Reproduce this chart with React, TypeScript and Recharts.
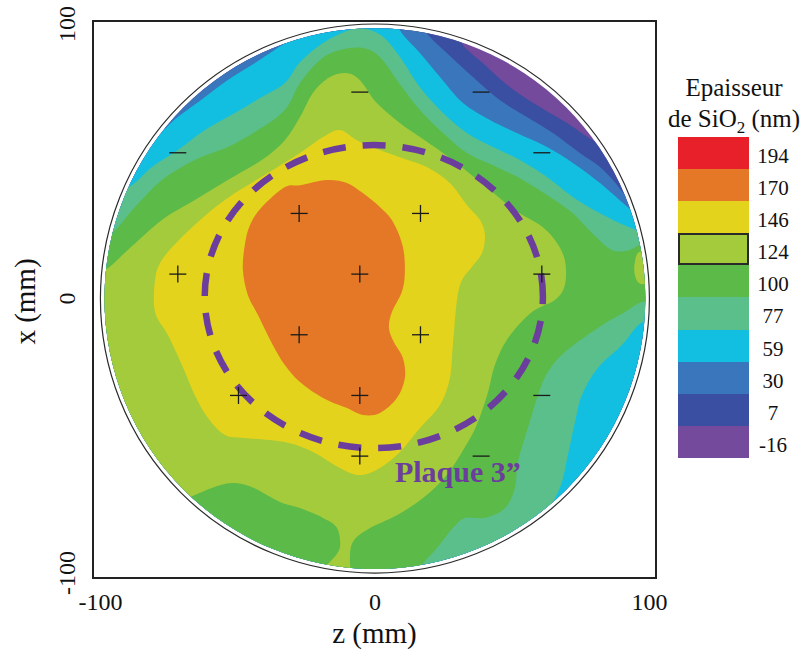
import React from 'react';
import { ScatterChart, Scatter, XAxis, YAxis, ReferenceArea } from 'recharts';

type Pt = { z: number; x: number };
const P = (arr: number[][]): Pt[] => arr.map(([z, x]) => ({ z, x }));

// Legend levels (nm) and colours
const levelLabels = ['194', '170', '146', '124', '100', '77', '59', '30', '7', '-16'];
const levelColors = ['#e8202a', '#e47826', '#e3d31c', '#a4cb3b', '#5bba48', '#5bbf8c', '#12bfe0', '#3976bb', '#3a4ea2', '#744a9c'];
const [cRed, cOrange, cYellow, cYG, cGreen, cTeal, cCyan, cBlue, cDark, cPurple] = levelColors;

// Axis ticks (mm)
const xTicks = [-100, 0, 100];
const yTicks = [-100, 0, 100];
const xDomain = [-102.7, 102.4];
const yDomain = [-101.8, 101.1];

// Wafer outline and mapped area (mm)
const waferEdge = P([[-100, 0], [100, 0], [0, 100], [0, -100]]);
const mapEdge = P([[-98.5, 0], [98.5, 0], [0, 98.5], [0, -98.5]]);

// Contour regions (z, x in mm), superlevel sets drawn from lowest to highest
const darkRegion = P([[-130, 130], [27, 130], [29.1, 98.5], [32.1, 92.3], [39.3, 85.8], [49.2, 77.0], [60.1, 69.8], [69.9, 64.0], [79.4, 57.7], [87.4, 54.8], [130, 50], [130, -130], [-130, -130]]);
const blueRegion = P([[-130, 130], [15, 130], [16.4, 103.3], [18.9, 96.7], [26.2, 89.4], [35.7, 80.7], [45.5, 72.3], [55.4, 66.1], [64.8, 60.3], [74.7, 53.0], [82.0, 47.9], [87.4, 42.4], [92.2, 37.0], [99.5, 34.1], [130, 30], [130, -130], [-130, -130]]);
const cyanRegion = P([[-130, 60], [-85.6, 63.2], [-79.1, 60.3], [-71.8, 66.1], [-61.9, 73.4], [-53.6, 79.6], [-43.7, 85.8], [-33.9, 92.3], [-27.3, 96.0], [-26.2, 102.3], [8.4, 104.4], [9.1, 97.8], [16.4, 89.4], [23.7, 80.7], [32.1, 71.2], [41.9, 65.0], [51.7, 60.3], [62.7, 55.2], [72.1, 49.4], [82.0, 42.1], [93.6, 32.2], [102.0, 27.9], [130, 25], [130, -130], [-130, -130]]);
const tealRegion = P([[-130, 45], [-97.3, 43.8], [-90.0, 40.6], [-81.2, 47.9], [-71.8, 54.1], [-61.9, 61.4], [-51.0, 67.6], [-41.2, 73.4], [-32.8, 78.5], [-27.3, 86.1], [-18.9, 93.1], [-10.2, 97.5], [-4.4, 98.5], [2.6, 95.6], [9.1, 88.0], [16.4, 77.0], [24.8, 67.6], [33.5, 60.3], [43.0, 55.2], [52.8, 50.5], [62.7, 44.3], [72.1, 37.0], [82.0, 31.1], [95.4, 25.0], [105.6, 24.2], [105.6, -7.8], [97.3, -8.6], [90.0, -16.9], [81.2, -25.3], [75.4, -35.2], [72.9, -45.0], [70.3, -57.0], [67.4, -69.0], [60.1, -84.3], [40, -130], [-130, -130]]);
const greenRegion = P([[-130, 23], [-103.1, 23.1], [-95.8, 23.9], [-87.4, 33.3], [-77.6, 43.2], [-65.6, 50.5], [-53.6, 55.2], [-42.6, 61.4], [-32.8, 68.7], [-27.3, 78.5], [-20.0, 86.9], [-12.8, 90.5], [-4.4, 91.3], [1.8, 88.0], [9.1, 78.1], [16.4, 68.7], [24.8, 60.3], [33.5, 53.0], [44.4, 47.9], [53.9, 43.2], [63.8, 37.0], [72.1, 31.1], [79.1, 23.9], [86.3, 17.7], [92.9, 17.7], [98.4, 20.6], [105.6, 20.6], [105.6, -0.5], [97.3, -1.3], [91.1, -4.9], [81.2, -10.7], [69.2, -19.5], [63.0, -26.8], [59.4, -35.2], [55.7, -47.2], [52.1, -59.6], [51.0, -69.0], [47.4, -76.3], [40.1, -79.9], [32.8, -79.9], [28.4, -83.6], [22.6, -90.9], [16.4, -98.2], [14.6, -106.2], [-130, -130]]);
const ygRegion = P([[-130, 10], [-105.6, 10.4], [-98.4, 10.4], [-90.0, 17.7], [-77.6, 28.6], [-65.6, 35.9], [-53.6, 43.2], [-41.2, 50.5], [-32.8, 57.7], [-27.3, 66.1], [-22.6, 74.9], [-16.4, 80.7], [-10.2, 82.1], [-5.5, 79.6], [0.7, 71.2], [9.1, 63.9], [16.4, 58.8], [24.8, 53.0], [33.5, 46.4], [41.9, 39.5], [51.0, 32.2], [60.1, 26.8], [65.6, 21.3], [69.2, 14.0], [69.2, 4.9], [65.6, -0.5], [57.2, -4.9], [48.5, -14.4], [43.7, -24.2], [41.2, -34.1], [37.5, -45.0], [33.9, -52.3], [26.2, -64.3], [17.5, -72.7], [8.0, -78.9], [-1.8, -83.6], [-8.0, -88.6], [-9.1, -96.0], [-8.4, -106.2], [-19.3, -106.2], [-18.9, -98.2], [-16.4, -96.0], [-12.8, -90.9], [-13.8, -83.6], [-18.9, -79.9], [-27.3, -76.3], [-34.6, -74.1], [-44.8, -68.7], [-52.1, -67.2], [-59.4, -69.0], [-65.6, -71.6], [-74.7, -75.2], [-130, -80]]);
const ygPatch = P([[96.5, 17.0], [94.7, 13.3], [94.7, 8.6], [96.9, 5.3], [103.8, 4.9], [103.8, 17.7]]);
const yellowRegion = P([[-12.8, 61.4], [-6.6, 57.7], [1.8, 54.1], [9.1, 51.5], [18.9, 47.9], [27.3, 42.1], [33.5, 34.1], [38.3, 28.6], [40.1, 23.1], [39.0, 16.6], [35.3, 11.5], [31.7, 6.7], [29.9, -0.5], [28.4, -16.9], [27.3, -29.0], [23.7, -38.8], [16.4, -47.2], [9.1, -55.9], [1.8, -61.7], [-5.5, -64.3], [-12.8, -61.7], [-22.6, -55.9], [-32.8, -52.3], [-47.4, -50.8], [-54.6, -49.7], [-60.8, -43.5], [-65.6, -35.2], [-70.3, -24.2], [-75.4, -13.3], [-80.1, -4.9], [-80.1, 6.7], [-77.6, 14.0], [-70.3, 22.4], [-60.8, 31.1], [-51.0, 38.4], [-39.0, 45.7], [-27.3, 53.0], [-18.9, 58.8]]);
const orangeRegion = P([[-32.8, 40.6], [-27.3, 41.3], [-17.5, 43.2], [-10.2, 42.1], [-4.4, 38.4], [1.8, 33.3], [6.6, 27.9], [10.2, 18.8], [10.9, 9.3], [9.8, 2.4], [6.2, -4.9], [5.1, -10.7], [6.9, -15.8], [10.2, -21.7], [10.9, -29.0], [8.0, -36.2], [1.8, -41.7], [-4.4, -42.4], [-10.2, -39.9], [-18.9, -36.2], [-27.3, -30.4], [-32.8, -24.2], [-37.2, -16.9], [-42.6, -6.0], [-46.3, 1.3], [-48.1, 10.4], [-47.4, 19.5], [-45.5, 26.8], [-41.2, 33.3]]);

// Measurement points
const plusPoints = P([[-27.6, 31.0], [16.6, 31.0], [-71.8, 8.9], [-5.5, 8.9], [60.8, 8.9], [-27.6, -13.2], [16.6, -13.2], [-49.7, -35.3], [-5.5, -35.3], [-5.5, -57.4]]);
const minusPoints = P([[-71.8, 53.1], [-5.5, 75.2], [38.7, 75.2], [60.8, 53.1], [60.8, -35.3], [38.7, -57.4]]);

// 3" wafer outline (dashed) extreme points and its label
const plaqueEdge = P([[-62.0, 0.7], [61.2, 0.7], [-0.4, 55.9], [-0.4, -54.5]]);
const plaqueLabel = [{ z: 7.3, x: -66.8, text: 'Plaque 3\u201D' }];

const SERIF = '"Liberation Serif", "Times New Roman", Times, serif';
const PLAQUE = '#6b3d9c';

type XY = { x: number; y: number };

function bbox(pts: XY[]) {
  const xs = pts.map((p) => p.x);
  const ys = pts.map((p) => p.y);
  const x0 = Math.min(...xs), x1 = Math.max(...xs), y0 = Math.min(...ys), y1 = Math.max(...ys);
  return { cx: (x0 + x1) / 2, cy: (y0 + y1) / 2, rx: (x1 - x0) / 2, ry: (y1 - y0) / 2 };
}

function smoothPath(pts: XY[], data: Pt[]) {
  const n = pts.length;
  const out = data.map((d) => d.z * d.z + d.x * d.x > 100.5 * 100.5);
  let d = `M${pts[0].x},${pts[0].y}`;
  for (let i = 0; i < n; i++) {
    const j = (i + 1) % n;
    const p1 = pts[i], p2 = pts[j];
    if (out[i] || out[j]) {
      d += `L${p2.x},${p2.y}`;
    } else {
      const p0 = pts[(i - 1 + n) % n], p3 = pts[(i + 2) % n];
      const c1x = p1.x + (p2.x - p0.x) / 6, c1y = p1.y + (p2.y - p0.y) / 6;
      const c2x = p2.x - (p3.x - p1.x) / 6, c2y = p2.y - (p3.y - p1.y) / 6;
      d += `C${c1x},${c1y} ${c2x},${c2y} ${p2.x},${p2.y}`;
    }
  }
  return d + 'Z';
}

const renderNothing = () => <g />;

const regionLine = (data: Pt[], color: string) => (props: any) => {
  const pts: XY[] = props.points || [];
  if (pts.length < 3) return <g />;
  return <path d={smoothPath(pts, data)} fill={color} stroke="none" clipPath="url(#waferMapClip)" />;
};

const discLine = (props: any) => {
  const b = bbox(props.points || []);
  return (
    <g>
      <defs>
        <clipPath id="waferMapClip">
          <ellipse cx={b.cx} cy={b.cy} rx={b.rx} ry={b.ry} />
        </clipPath>
      </defs>
      <ellipse cx={b.cx} cy={b.cy} rx={b.rx} ry={b.ry} fill={cPurple} />
    </g>
  );
};

const outlineLine = (props: any) => {
  const b = bbox(props.points || []);
  return <ellipse cx={b.cx} cy={b.cy} rx={b.rx} ry={b.ry} fill="none" stroke="#2a2a2a" strokeWidth={1.2} />;
};

const plaqueLine = (props: any) => {
  const b = bbox(props.points || []);
  return (
    <ellipse cx={b.cx} cy={b.cy} rx={b.rx} ry={b.ry} fill="none" stroke={PLAQUE} strokeWidth={6.5}
      strokeDasharray="23 17" strokeDashoffset={15.5} />
  );
};

const PlusMark = (p: any) => (
  <g stroke="#1a1a1a" strokeWidth={1.3}>
    <line x1={p.cx - 8.5} y1={p.cy} x2={p.cx + 8.5} y2={p.cy} />
    <line x1={p.cx} y1={p.cy - 8.5} x2={p.cx} y2={p.cy + 8.5} />
  </g>
);
const MinusMark = (p: any) => (
  <g stroke="#1a1a1a" strokeWidth={1.3}>
    <line x1={p.cx - 8.5} y1={p.cy} x2={p.cx + 8.5} y2={p.cy} />
  </g>
);
const PlaqueText = (p: any) => (
  <text x={p.cx} y={p.cy} fill={PLAQUE} fontSize={30} fontWeight="bold" fontFamily={SERIF}>
    {p.payload.text}
  </text>
);

const XTick = (p: any) => (
  <text x={p.x} y={p.y + 24} textAnchor="middle" fontSize={24} fontFamily={SERIF} fill="#111">
    {p.payload.value}
  </text>
);
const YTick = (p: any) => {
  const bx = p.x - 10;
  return (
    <text x={bx} y={p.y} transform={`rotate(-90 ${bx} ${p.y})`} textAnchor="middle" fontSize={24} fontFamily={SERIF} fill="#111">
      {p.payload.value}
    </text>
  );
};

const XTitle = (p: any) => {
  const vb = p.viewBox || { x: 93, y: 578, width: 563, height: 60 };
  return (
    <text x={vb.x + vb.width / 2} y={vb.y + 65} textAnchor="middle" fontSize={29} fontFamily={SERIF} fill="#111">
      z (mm)
    </text>
  );
};
const YTitle = (p: any) => {
  const vb = p.viewBox || { x: 33, y: 21, width: 60, height: 557 };
  const cx = 35;
  const cy = vb.y + vb.height / 2 + 2;
  return (
    <text x={cx} y={cy} transform={`rotate(-90 ${cx} ${cy})`} textAnchor="middle" fontSize={29} fontFamily={SERIF} fill="#111">
      x (mm)
    </text>
  );
};

const regions: { name: string; data: Pt[]; color: string }[] = [
  { name: 'r7', data: darkRegion, color: cDark },
  { name: 'r30', data: blueRegion, color: cBlue },
  { name: 'r59', data: cyanRegion, color: cCyan },
  { name: 'r77', data: tealRegion, color: cTeal },
  { name: 'r100', data: greenRegion, color: cGreen },
  { name: 'r124', data: ygRegion, color: cYG },
  { name: 'r124b', data: ygPatch, color: cYG },
  { name: 'r146', data: yellowRegion, color: cYellow },
  { name: 'r170', data: orangeRegion, color: cOrange },
];

export default function App() {
  const rowH = 32.15;
  return (
    <div style={{ position: 'absolute', left: 0, top: 0, width: 805, height: 653, background: '#fff', fontFamily: SERIF }}>
      <ScatterChart width={805} height={653} margin={{ top: 21, right: 149, bottom: 15, left: 33 }}>
        <XAxis type="number" dataKey="z" domain={xDomain} ticks={xTicks} allowDataOverflow height={60}
          axisLine={false} tickLine={false} tick={XTick} label={XTitle} />
        <YAxis type="number" dataKey="x" domain={yDomain} ticks={yTicks} allowDataOverflow width={60}
          axisLine={false} tickLine={false} tick={YTick} label={YTitle} />
        <Scatter name="disc" data={mapEdge} shape={renderNothing} line={discLine} lineType="joint" isAnimationActive={false} />
        {regions.map((r) => (
          <Scatter key={r.name} name={r.name} data={r.data} shape={renderNothing} line={regionLine(r.data, r.color)}
            lineType="joint" isAnimationActive={false} />
        ))}
        <Scatter name="wafer" data={waferEdge} shape={renderNothing} line={outlineLine} lineType="joint" isAnimationActive={false} />
        <Scatter name="plaque" data={plaqueEdge} shape={renderNothing} line={plaqueLine} lineType="joint" isAnimationActive={false} />
        <Scatter name="plus" data={plusPoints} shape={PlusMark} isAnimationActive={false} />
        <Scatter name="minus" data={minusPoints} shape={MinusMark} isAnimationActive={false} />
        <Scatter name="label" data={plaqueLabel} shape={PlaqueText} isAnimationActive={false} />
        <ReferenceArea x1={xDomain[0]} x2={xDomain[1]} y1={yDomain[0]} y2={yDomain[1]} fill="none" fillOpacity={0}
          stroke="#222" strokeWidth={2} ifOverflow="visible" />
      </ScatterChart>

      <div style={{ position: 'absolute', left: 654, top: 72, width: 160, textAlign: 'center', fontSize: 25, lineHeight: '31px', color: '#111' }}>
        <div>Epaisseur</div>
        <div>
          de SiO<span style={{ fontSize: 17, lineHeight: 0, position: 'relative', top: 6 }}>2</span> (nm)
        </div>
      </div>
      {levelLabels.map((lab, i) => (
        <React.Fragment key={lab}>
          <div style={{
            position: 'absolute', left: 678, top: 136.7 + i * rowH, width: 71, height: rowH,
            background: levelColors[i], boxSizing: 'border-box',
            border: lab === '124' ? '2px solid #2a2a2a' : 'none',
          }} />
          <div style={{
            position: 'absolute', left: 748, top: 136.7 + i * rowH + 3, width: 50, height: rowH,
            lineHeight: `${rowH}px`, textAlign: 'center', fontSize: 21, color: '#111',
          }}>{lab}</div>
        </React.Fragment>
      ))}
    </div>
  );
}
